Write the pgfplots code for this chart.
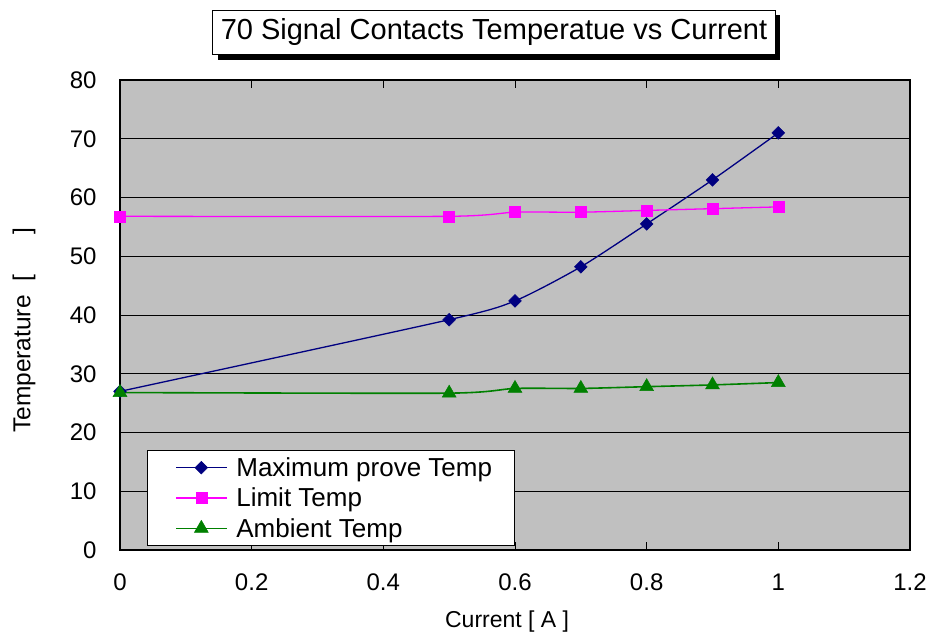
\documentclass[border=0pt]{standalone}
\usepackage{pgfplots}
\pgfplotsset{compat=1.18}
\usepackage{fontspec}
\setmainfont{Liberation Sans}
\usetikzlibrary{shadows}

\definecolor{plotgray}{RGB}{192,192,192}
\definecolor{maxc}{RGB}{0,0,128}
\definecolor{limc}{RGB}{255,0,255}
\definecolor{ambc}{RGB}{0,128,0}

\begin{document}
\begin{tikzpicture}
\useasboundingbox (-120pt,-90pt) rectangle (812pt,550pt);
\begin{axis}[
  at={(0pt,0pt)}, anchor=south west,
  scale only axis, width=790pt, height=470pt,
  xmin=0, xmax=1.2, ymin=0, ymax=80,
  xtick={0,0.2,0.4,0.6,0.8,1,1.2},
  ytick={0,10,20,30,40,50,60,70,80},
  /pgf/number format/assume math mode=true,
  tick align=inside, major tick length=8pt,
  tick style={black, line width=1pt},
  axis background/.style={fill=plotgray},
  axis line style={black, line width=1.2pt},
  ymajorgrids, major grid style={black, line width=1pt},
  ticklabel style={font=\fontsize{24}{28}\selectfont},
  xticklabel style={yshift=-20pt},
  yticklabel style={xshift=-20pt},
  xlabel={Current [ A ]},
  ylabel={Temperature \ [\ \ \ \ \ \ ]},
  xlabel style={font=\fontsize{23}{27}\selectfont, at={(axis description cs:0.49,-0.153)}, anchor=center},
  ylabel style={font=\fontsize{24.5}{28}\selectfont, at={(axis description cs:-0.1215,0.468)}, anchor=center, rotate=0},
  title={70 Signal Contacts Temperatue vs Current},
  title style={font=\fontsize{29}{33}\selectfont, at={(axis description cs:0.4734,1)}, anchor=south, yshift=19pt,
    draw=black, line width=1pt, fill=white, inner xsep=8pt, inner ysep=8.5pt,
    drop shadow={shadow xshift=5pt, shadow yshift=-5pt, fill=black, opacity=1}},
  legend cell align=left,
  legend style={at={(axis description cs:0.034,0.0085)}, anchor=south west,
    draw=black, line width=1pt, fill=white, font=\fontsize{26}{31}\selectfont,
    inner xsep=4pt, inner ysep=5pt, row sep=6pt},
  legend image code/.code={
    \path[draw=none] (0pt,0pt) -- (83pt,0pt);
    \draw[mark repeat=2, mark phase=2] plot coordinates {(25pt,0pt) (50pt,0pt) (75pt,0pt)};},
]
\addplot+[smooth, tension=0.4, color=maxc, line width=1.3pt, mark=square*, mark size=4.5pt,
  mark options={rotate=45, fill=maxc, draw=maxc, line width=0.5pt}]
coordinates {
  (0,27.0) (0.5,39.2) (0.6,42.4) (0.7,48.2) (0.8,55.5) (0.9,63.0) (1.0,71.0)
};
\addplot+[smooth, tension=0.4, color=limc, line width=1.3pt, mark=square*, mark size=5.5pt,
  mark options={fill=limc, draw=limc, line width=0.5pt}]
coordinates {
  (0,56.8) (0.5,56.8) (0.6,57.5) (0.7,57.5) (0.8,57.8) (0.9,58.1) (1.0,58.4)
};
\addplot+[smooth, tension=0.4, color=ambc, line width=1.6pt, mark=triangle*, mark size=8pt,
  mark options={fill=ambc, draw=ambc, line width=0.5pt}]
coordinates {
  (0,26.8) (0.5,26.7) (0.6,27.5) (0.7,27.5) (0.8,27.8) (0.9,28.1) (1.0,28.5)
};
\legend{Maximum prove Temp\hspace*{16pt}\null, Limit Temp, Ambient Temp}
\end{axis}
\end{tikzpicture}
\end{document}
